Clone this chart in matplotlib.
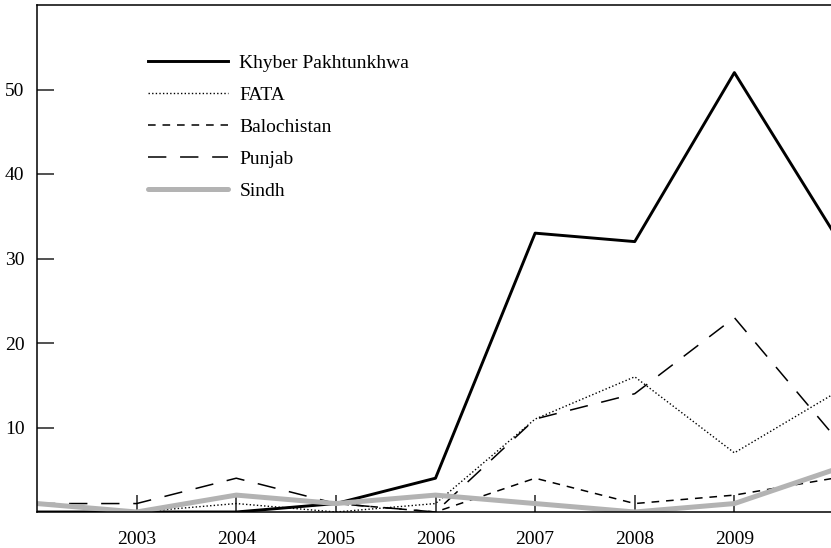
import matplotlib
matplotlib.use('Agg')
import matplotlib.pyplot as plt

# data (the 2010 point runs off the right edge)
years = [2002, 2003, 2004, 2005, 2006, 2007, 2008, 2009, 2010]
khyber = [0, 0, 0, 1, 4, 33, 32, 52, 33]
fata = [0, 0, 1, 0, 1, 11, 16, 7, 14]
balochistan = [0, 0, 0, 1, 0, 4, 1, 2, 4]
punjab = [1, 1, 4, 1, 0, 11, 14, 23, 9]
sindh = [1, 0, 2, 1, 2, 1, 0, 1, 5]

xticks = [2003, 2004, 2005, 2006, 2007, 2008, 2009]
yticks = [10, 20, 30, 40, 50]

plt.rcParams['font.family'] = ['Liberation Serif', 'DejaVu Serif']

W, H = 831, 548
fig = plt.figure(figsize=(W / 100, H / 100), dpi=100)
ax = fig.add_axes([37 / W, 36 / H, (834 - 37) / W, (512 - 5) / H])

ax.plot(years, khyber, color='black', lw=2.1, label='Khyber Pakhtunkhwa')
ax.plot(years, fata, color='black', lw=1.0, linestyle=(0, (1, 1.6)), label='FATA')
ax.plot(years, balochistan, color='black', lw=1.1, linestyle=(0, (5, 4.5)), label='Balochistan')
ax.plot(years, punjab, color='black', lw=1.1, linestyle=(0, (12, 9)), label='Punjab')
ax.plot(years, sindh, color='#b3b3b3', lw=3.6, solid_capstyle='round', label='Sindh')

ax.set_xlim(2002, 2010)
ax.set_ylim(0, 60)
ax.set_xticks(xticks)
ax.set_yticks(yticks)
ax.tick_params(direction='in', length=12, width=1.1, labelsize=14, color='#222222')
ax.tick_params(axis='x', pad=14)
ax.tick_params(axis='y', pad=9)
for side in ['left', 'top', 'bottom']:
    ax.spines[side].set_linewidth(1.1)
ax.spines['right'].set_visible(False)

leg = ax.legend(loc='upper left', bbox_to_anchor=(148 / W, 1 - 54 / H),
                bbox_transform=fig.transFigure, frameon=False, fontsize=14,
                handlelength=4.1, handletextpad=0.6, labelspacing=0.74,
                borderpad=0, borderaxespad=0)

fig.savefig('out.png', dpi=100)
